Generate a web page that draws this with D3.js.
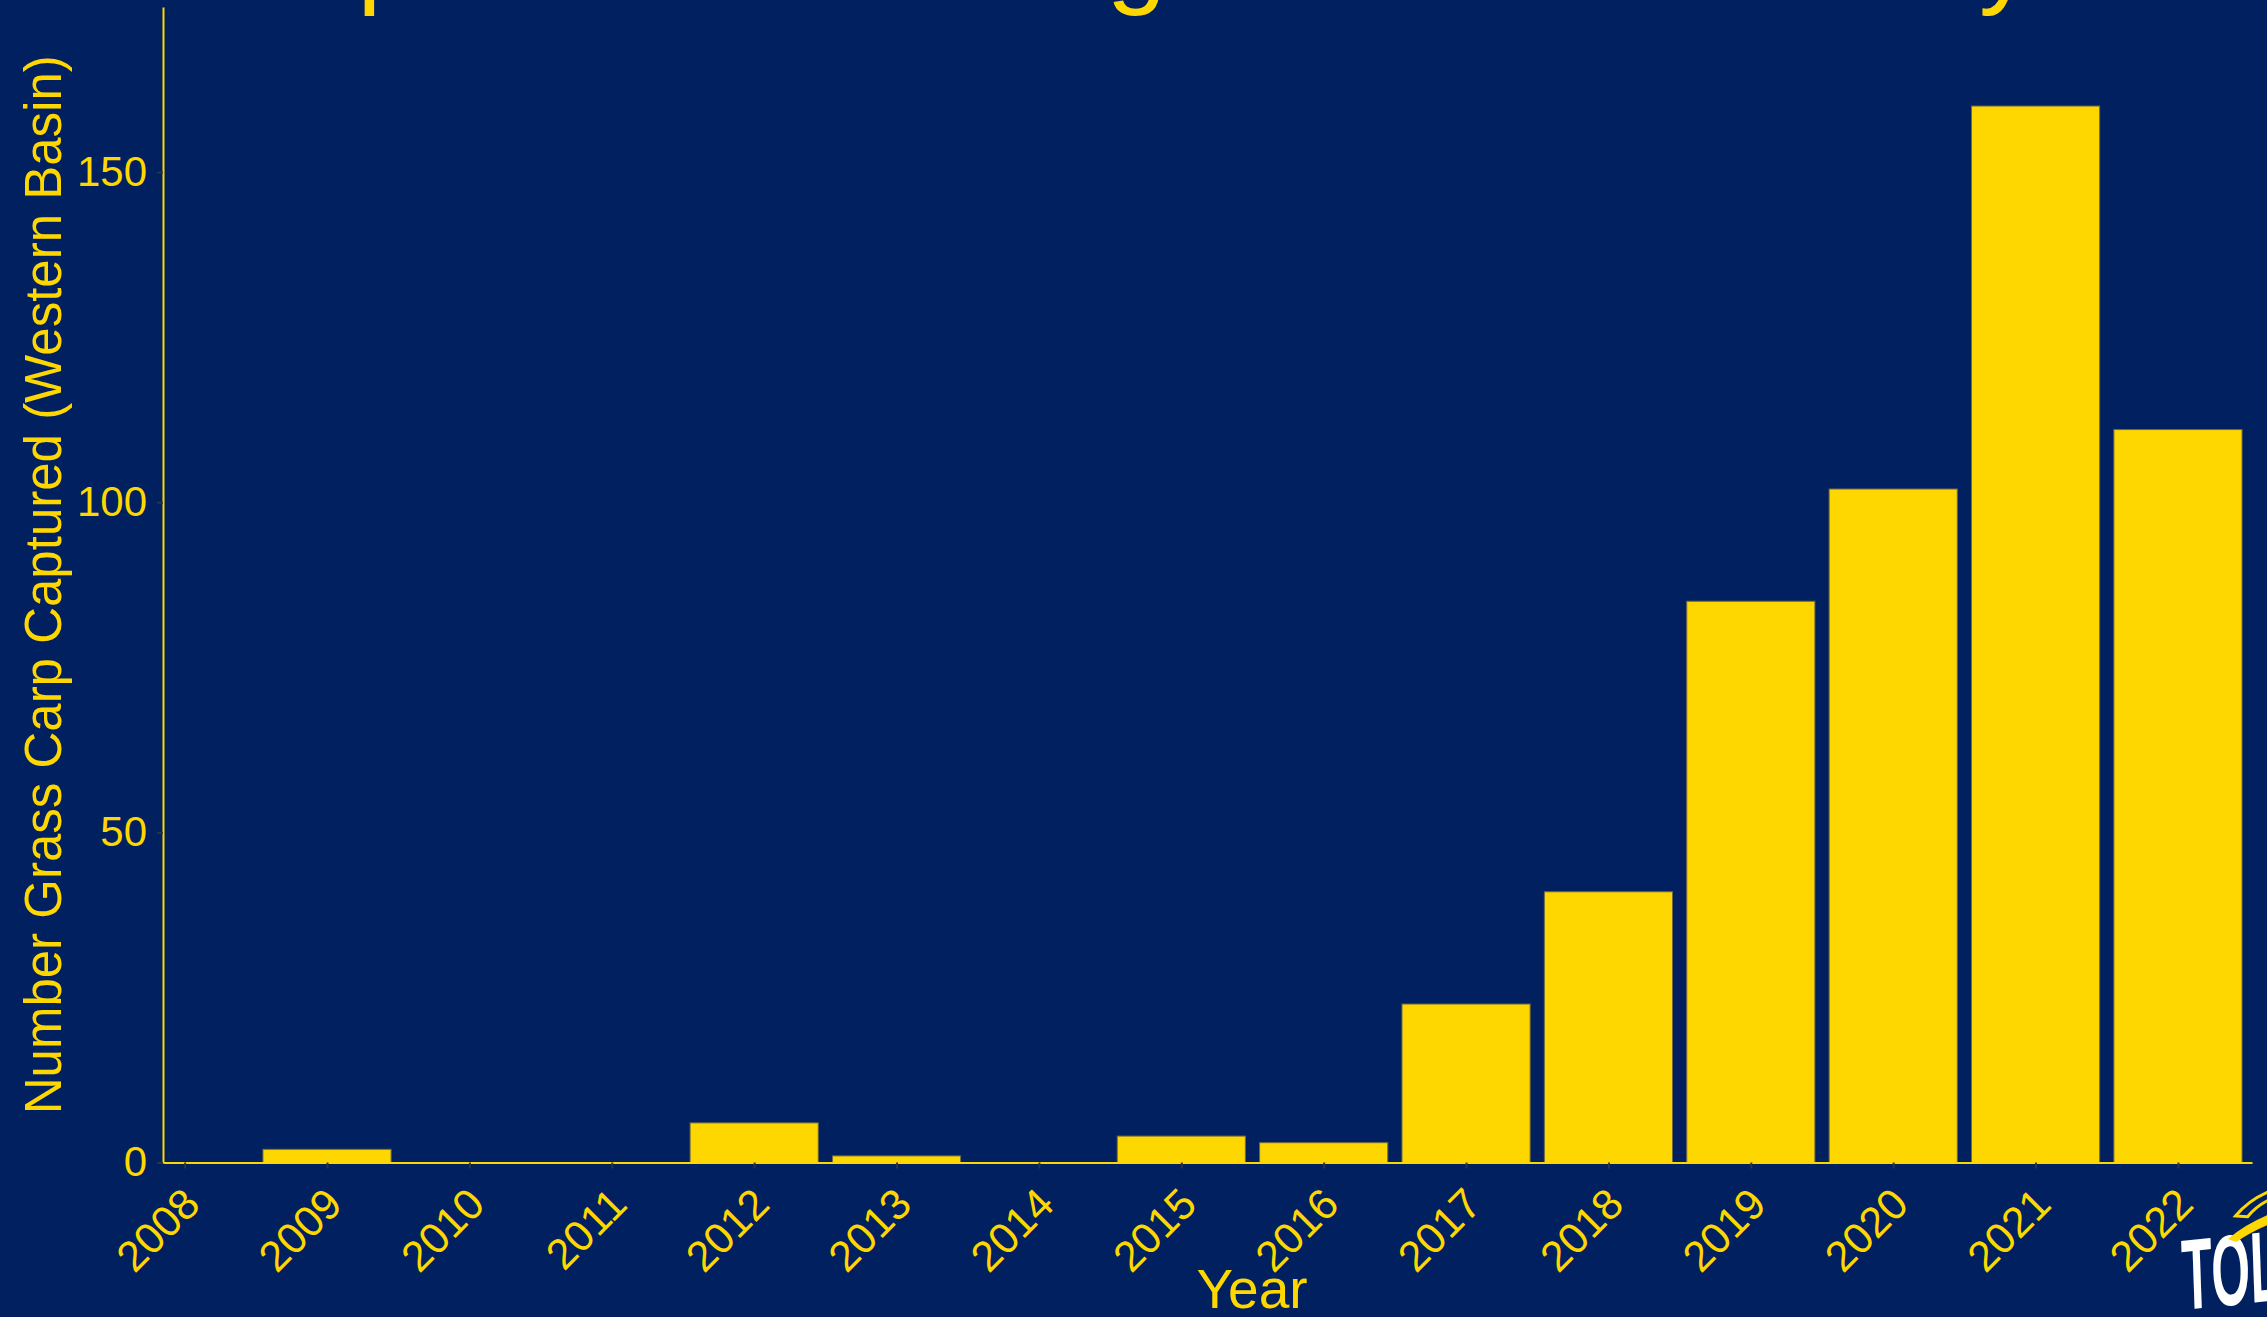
<!DOCTYPE html>
<html>
<head>
<meta charset="utf-8">
<script src="https://cdn.jsdelivr.net/npm/d3@7"></script>
<style>
  html, body { margin: 0; padding: 0; background: #002060; overflow: hidden; }
  svg { display: block; }
</style>
</head>
<body>
<svg id="chart" width="2267" height="1317"></svg>
<script>
// ---- data ----
const years = [2008, 2009, 2010, 2011, 2012, 2013, 2014, 2015, 2016, 2017, 2018, 2019, 2020, 2021, 2022];
const counts = [0, 2, 0, 0, 6, 1, 0, 4, 3, 24, 41, 85, 102, 160, 111];
const yTicks = [0, 50, 100, 150];
const titleText = "Grass Carp Catch Is Rising in the West Every Year";
const yTitle = "Number Grass Carp Captured (Western Basin)";
const xTitle = "Year";

// ---- style ----
const BG = "#002060";
const GOLD = "#FFD700";
const FONT = "'Liberation Sans', Arial, sans-serif";

const W = 2267, H = 1317;
const svg = d3.select("#chart").style("font-family", FONT);
svg.append("rect").attr("width", W).attr("height", H).attr("fill", BG);

const x = d3.scaleLinear().domain([2007.848, 2022.52]).range([163, 2252]);
const y = d3.scaleLinear().domain([0, 175]).range([1162.5, 7]);
const barW = x(2008.9) - x(2008);

// title (mostly above the visible area)
svg.append("text")
  .attr("x", -130).attr("y", -6)
  .attr("fill", GOLD)
  .style("font-size", "107px")
  .text(titleText);

// bars
svg.append("g").selectAll("rect")
  .data(years.map((yr, i) => ({ yr, v: counts[i] })))
  .join("rect")
  .attr("x", d => x(d.yr) - barW / 2)
  .attr("width", barW)
  .attr("y", d => y(d.v))
  .attr("height", d => y(0) - y(d.v))
  .attr("fill", GOLD)
  .attr("stroke", "#6f6a45")
  .attr("stroke-width", 1);

// y axis
const gy = svg.append("g")
  .attr("transform", `translate(${x.range()[0]},0)`)
  .call(d3.axisLeft(y).tickValues(yTicks).tickSize(6).tickSizeOuter(0).tickPadding(10));
gy.select(".domain").attr("stroke", GOLD).attr("stroke-width", 2);
gy.selectAll(".tick line").attr("stroke", "#333333").attr("stroke-width", 2);
gy.selectAll(".tick text").attr("fill", GOLD).style("font-size", "42px").style("font-family", FONT);

// x axis
const gx = svg.append("g")
  .attr("transform", `translate(0,${y(0)})`)
  .call(d3.axisBottom(x).tickValues(years).tickFormat(d3.format("d")).tickSize(6).tickSizeOuter(0));
gx.select(".domain").attr("stroke", GOLD).attr("stroke-width", 2);
gx.selectAll(".tick line").attr("stroke", "#333333").attr("stroke-width", 2);
gx.selectAll(".tick text")
  .attr("fill", GOLD)
  .attr("x", 0).attr("y", 0).attr("dy", 0)
  .attr("text-anchor", "end")
  .attr("transform", "translate(17,44) rotate(-45)")
  .style("font-size", "43px").style("font-family", FONT);

// axis titles
svg.append("text")
  .attr("transform", `translate(61,${(y.range()[0] + y.range()[1]) / 2}) rotate(-90)`)
  .attr("text-anchor", "middle")
  .attr("fill", GOLD)
  .style("font-size", "51px")
  .text(yTitle);

svg.append("text")
  .attr("x", 1252).attr("y", 1308)
  .attr("text-anchor", "middle")
  .attr("fill", GOLD)
  .style("font-size", "55px")
  .text(xTitle);

// logo fragment (bottom-right, cut off)
const logo = svg.append("g").attr("transform", "translate(2183,1310) rotate(-6)");
logo.append("text")
  .attr("x", 0).attr("y", 0)
  .attr("fill", "#ffffff")
  .attr("transform", "skewX(-4) scale(0.5,1)")
  .style("font-size", "100px").style("font-weight", "900")
  .text("TOLEDO");
logo.append("path")
  .attr("d", "M 62 -88 Q 80 -106 110 -112 L 110 -104 Q 88 -100 74 -86 Z")
  .attr("fill", "none").attr("stroke", GOLD).attr("stroke-width", 3);
logo.append("path")
  .attr("d", "M 52 -66 Q 75 -82 110 -90 L 110 -80 Q 82 -74 60 -62 Z")
  .attr("fill", GOLD);
</script>
</body>
</html>
